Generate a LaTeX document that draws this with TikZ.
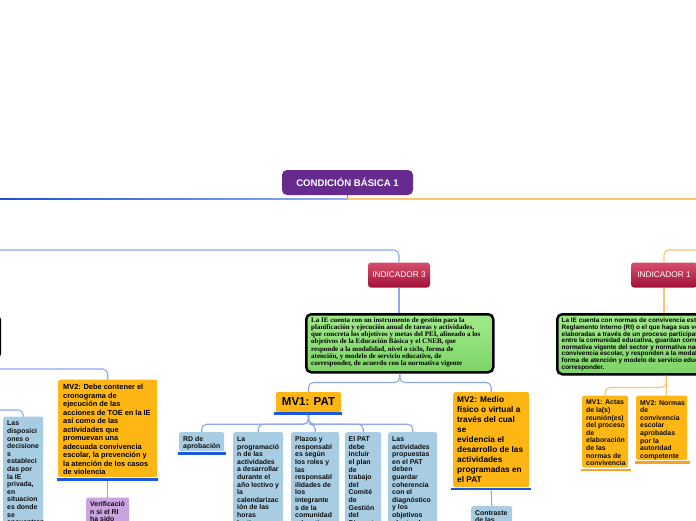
\documentclass[tikz,border=0pt]{standalone}
\usepackage{fontspec}
\setmainfont{Liberation Serif}
\setsansfont{Liberation Sans}
\usetikzlibrary{calc}
\definecolor{cbpurple}{HTML}{672B8F}
\definecolor{indtop}{HTML}{D5506C}
\definecolor{indbot}{HTML}{A3113A}
\definecolor{gtop}{HTML}{A2EA8C}
\definecolor{gbot}{HTML}{7DD467}
\definecolor{orangebox}{HTML}{FDB614}
\definecolor{bluebox}{HTML}{A8CDE3}
\definecolor{lilac}{HTML}{C9A4E0}
\definecolor{bconn}{HTML}{8EA7F0}
\definecolor{oconn}{HTML}{FFC46E}
\definecolor{buline}{HTML}{1C57E0}
\definecolor{ouline}{HTML}{F8A323}
\definecolor{topdark}{HTML}{1F4FDA}
\definecolor{toplight}{HTML}{94B2F2}
\definecolor{stem}{HTML}{A58566}
\tikzset{
  shapebox/.style={rectangle, anchor=north west, inner sep=0pt, rounded corners=2pt},
  obox/.style={shapebox, fill=orangebox},
  lbbox/.style={shapebox, fill=bluebox},
  lilbox/.style={shapebox, fill=lilac},
  gbox/.style={shapebox, rounded corners=5pt, top color=gtop, bottom color=gbot, draw=black, line width=2.5pt},
  indbox/.style={rectangle, rounded corners=3pt, top color=indtop, bottom color=indbot, text=white,
    font=\fontsize{8.3}{10}\selectfont\sffamily, minimum height=25, inner sep=0pt},
  txt/.style={anchor=north west, inner sep=0pt, align=left},
  sfs/.style={txt, font=\fontsize{6.9}{7.6}\selectfont\sffamily\bfseries, text=black!95},
  bc/.style={draw=bconn, line width=1.1pt, rounded corners=5pt},
  oc/.style={draw=oconn, line width=1.1pt, rounded corners=5pt},
  bul/.style={draw=buline, line width=2.6pt},
  oul/.style={draw=ouline, line width=2.6pt},
}
\begin{document}
\begin{tikzpicture}[x=1pt,y=-1pt]
\useasboundingbox (0,0) rectangle (696,520);
\clip (0,0) rectangle (696,520);
\fill[white] (0,0) rectangle (696,520);

% ---------- nodes ----------
\node[rectangle, rounded corners=5pt, fill=cbpurple, text=white, font=\fontsize{9.6}{11}\selectfont\sffamily\bfseries,
      minimum width=131, minimum height=25, inner sep=0pt] (cb1) at (347.5,182.5) {CONDICIÓN BÁSICA 1};

\node[indbox, minimum width=62] (ind3) at (399,275) {INDICADOR 3};
\node[indbox, minimum width=66] (ind1) at (664,275) {INDICADOR 1};

% left partial box
\node[gbox, anchor=north east, minimum width=150, minimum height=43] (lbox) at (1.2,314) {};

% green box 1
\node[gbox, minimum width=187, minimum height=58] (g1) at (305,313) {};
\node[txt, font=\fontsize{7}{7.3}\selectfont\rmfamily\bfseries] (g1t) at (311,317)
 {La IE cuenta con un instrumento de gestión para la\\
  planificación y ejecución anual de tareas y actividades,\\
  que concreta los objetivos y metas del PEI, alineado a los\\
  objetivos de la Educación Básica y el CNEB, que\\
  responde a la modalidad, nivel o ciclo, forma de\\
  atención, y modelo de servicio educativo, de\\
  corresponder, de acuerdo con la normativa vigente};

% green box 2
\node[gbox, minimum width=218, minimum height=60] (g2) at (556,313) {};
\node[txt, font=\fontsize{6.4}{6.6}\selectfont\sffamily\bfseries] (g2t) at (561.5,318)
 {La IE cuenta con normas de convivencia establecidas en el\\
  Reglamento Interno (RI) o el que haga sus veces,\\
  elaboradas a través de un proceso participativo\\
  entre la comunidad educativa, guardan correspondencia con la\\
  normativa vigente del sector y normativa nacional sobre\\
  convivencia escolar, y responden a la modalidad, nivel o ciclo,\\
  forma de atención y modelo de servicio educativo, de\\
  corresponder.};

% MV1 PAT
\node[rectangle, rounded corners=2pt, fill=orangebox, minimum width=65, minimum height=20, inner sep=0pt,
      font=\fontsize{11.5}{13}\selectfont\sffamily\bfseries] (mv1) at (308.5,402) {MV1: PAT};

% MV2 middle
\node[obox, minimum width=76, minimum height=95] (mv2m) at (453,392) {};
\node[txt, font=\fontsize{8.3}{10}\selectfont\sffamily\bfseries] (mv2mt) at (457,396)
 {MV2: Medio\\físico o virtual a\\través del cual\\se\\evidencia el\\desarrollo de las\\actividades\\programadas en\\el PAT};

% MV2 left
\node[obox, minimum width=99, minimum height=97.5] (mv2l) at (58,379.5) {};
\node[txt, font=\fontsize{7.4}{8.5}\selectfont\sffamily\bfseries] (mv2lt) at (63,384)
 {MV2: Debe contener el\\cronograma de\\ejecución de las\\acciones de TOE en la IE\\así como de las\\actividades que\\promuevan una\\adecuada convivencia\\escolar, la prevención y\\la atención de los casos\\de violencia};

% right MV1 / MV2
\node[obox, minimum width=46, minimum height=72] (mv1r) at (582,395.5) {};
\node[sfs] (mv1rt) at (586,400)
 {MV1: Actas\\de la(s)\\reunión(es)\\del proceso\\de\\elaboración\\de las\\normas de\\convivencia};
\node[obox, minimum width=51, minimum height=64.5] (mv2r) at (636,395.5) {};
\node[sfs] (mv2rt) at (640,400)
 {MV2: Normas\\de\\convivencia\\escolar\\aprobadas\\por la\\autoridad\\competente};

% blue boxes
\node[lbbox, minimum width=45, minimum height=19] (rd) at (179,432) {};
\node[sfs] (rdt) at (183,436) {RD de\\aprobación};
\node[lbbox, minimum width=50, minimum height=100] (prog) at (233,432) {};
\node[sfs] (progt) at (237,436.5)
 {La\\programació\\n de las\\actividades\\a desarrollar\\durante el\\año lectivo y\\la\\calendarizac\\ión de las\\horas\\lectivas};
\node[lbbox, minimum width=48, minimum height=100] (plaz) at (291,432) {};
\node[sfs] (plazt) at (295,436.5)
 {Plazos y\\responsabl\\es según\\los roles y\\las\\responsabl\\ilidades de\\los\\integrante\\s de la\\comunidad\\educativa};
\node[lbbox, minimum width=36, minimum height=100] (pat) at (345,432) {};
\node[sfs] (patt) at (348.5,436.5)
 {El PAT\\debe\\incluir\\el plan\\de\\trabajo\\del\\Comité\\de\\Gestión\\del\\Bienestar};
\node[lbbox, minimum width=49, minimum height=100] (act) at (388,432) {};
\node[sfs] (actt) at (392,436.5)
 {Las\\actividades\\propuestas\\en el PAT\\deben\\guardar\\coherencia\\con el\\diagnóstico\\y los\\objetivos\\planteados};
\node[lbbox, minimum width=40, minimum height=120] (disp) at (3,416.5) {};
\node[sfs] (dispt) at (7,421)
 {Las\\disposici\\ones o\\decisione\\s\\estableci\\das por\\la IE\\privada,\\en\\situacion\\es donde\\se\\encuentran};
\node[lbbox, minimum width=41, minimum height=30] (cont) at (471,506) {};
\node[sfs] (contt) at (475,510) {Contraste\\de las};
\node[lilbox, minimum width=43, minimum height=40] (verif) at (86,497.5) {};
\node[sfs] (veriftx) at (90,501.5) {Verificació\\n si el RI\\ha sido};

% ---------- connectors ----------
\coordinate (j0) at (348,199);
\coordinate (rt0) at (696,199);
\draw[draw=stem, line width=1pt] (cb1.south) -- (j0);
\shade[left color=topdark, right color=toplight] (0,198.3) rectangle (348,199.7);
\draw[draw=oconn, line width=1.3pt] (j0) -- (rt0);

\coordinate (lft3) at (0,250);
\coordinate (rt3) at (696,250);
\draw[bc] (lft3) -| (ind3.north);
\draw[oc] (rt3) -| (ind1.north);
\draw[bc] (ind3.south) -- (ind3.south |- g1.north);
\draw[oc] (ind1.south) -- (ind1.south |- g2.north);

\coordinate (g1j) at ($(g1.south)+(0,9)$);
\draw[bc] (g1.south) -- (g1j) -| (mv1.north);
\draw[bc] (g1.south) -- (g1j) -| (mv2m.north);

\coordinate (g2j) at ($(g2.south)+(0,12)$);
\draw[oc] (g2.south) -- (g2j) -| (mv1r.north);
\draw[oc] (g2.south) -- (g2.south |- mv2r.north);

\coordinate (mv1j) at ($(mv1.south)+(0,12)$);
\foreach \c in {rd,prog,plaz,pat,act}
  \draw[bc] ([yshift=-3pt]mv1.south) -- (mv1j) -| (\c.north);

\coordinate (lj1) at (0,369);
\coordinate (lj2) at (0,410);
\draw[bc] (lj1) -| (mv2l.north);
\draw[bc] (lj2) -| (disp.north);
\draw[bc] ([yshift=-3pt]mv2l.south) -- (verif.north);
\draw[bc] ([yshift=-3pt]mv2m.south) -- (cont.north);

% underlines
\draw[bul] ([xshift=-1pt,yshift=-1.8pt]mv2l.south west) -- ([xshift=1pt,yshift=-1.8pt]mv2l.south east);
\draw[bul] ([xshift=-2pt,yshift=-1.5pt]mv1.south west) -- ([xshift=1pt,yshift=-1.5pt]mv1.south east);
\draw[bul] ([xshift=-1pt,yshift=-1.8pt]rd.south west) -- ([xshift=2pt,yshift=-1.8pt]rd.south east);
\draw[bul] ([xshift=-2pt,yshift=-1.5pt]mv2m.south west) -- ([xshift=2pt,yshift=-1.5pt]mv2m.south east);
\draw[oul] ([xshift=-1pt,yshift=-2pt]mv1r.south west) -- ([xshift=3pt,yshift=-2pt]mv1r.south east);
\draw[oul] ([xshift=-1pt,yshift=-2pt]mv2r.south west) -- ([xshift=3pt,yshift=-2pt]mv2r.south east);
\end{tikzpicture}
\end{document}
